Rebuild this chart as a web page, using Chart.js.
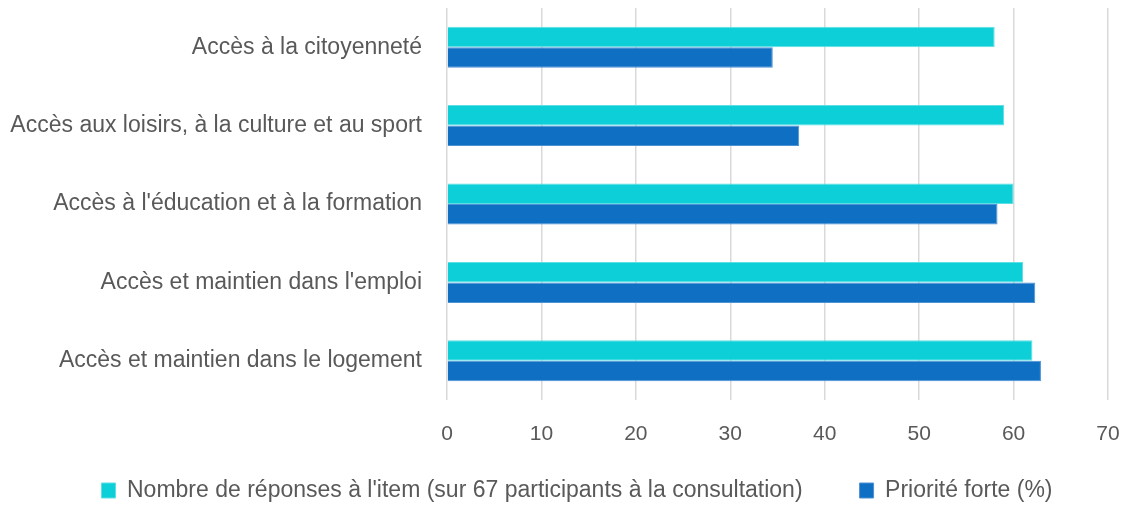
<!DOCTYPE html>
<html lang="fr">
<head>
<meta charset="utf-8">
<title>Priorités</title>
<script src="https://cdn.jsdelivr.net/npm/chart.js@4.4.1/dist/chart.umd.min.js"></script>
<style>
  html, body { margin: 0; padding: 0; background: #fff; }
  .chart-wrap { width: 1127px; height: 510px; }
</style>
</head>
<body>
<div class="chart-wrap">
  <canvas id="chart" width="1127" height="510"></canvas>
</div>
<script>
const categories = [
  'Accès à la citoyenneté',
  'Accès aux loisirs, à la culture et au sport',
  "Accès à l'éducation et à la formation",
  "Accès et maintien dans l'emploi",
  'Accès et maintien dans le logement',
];
const responses = [58, 59, 60, 61, 62];
const priority = [34.5, 37.3, 58.3, 62.3, 62.9];
const xTicks = [0, 10, 20, 30, 40, 50, 60, 70];

const labelResponses = "Nombre de réponses à l'item (sur 67 participants à la consultation)";
const labelPriority = 'Priorité forte (%)';

Chart.defaults.font.family = '"Liberation Sans", Arial, sans-serif';
Chart.defaults.font.size = 23;
Chart.defaults.color = '#595959';

// legend sits a little right of centre in the original
const legendOffset = {
  id: 'legendOffset',
  afterLayout(chart) {
    chart.legend.left += 23;
    chart.legend.right += 23;
  },
};

const ctx = document.getElementById('chart');

new Chart(ctx, {
  type: 'bar',
  data: {
    labels: categories,
    datasets: [
      {
        label: labelResponses,
        data: responses,
        backgroundColor: '#0ccfd8',
        borderColor: '#5ddfe5',
        borderWidth: 1,
      },
      {
        label: labelPriority,
        data: priority,
        backgroundColor: '#0e6fc3',
        borderColor: '#4d92d4',
        borderWidth: 1,
      },
    ],
  },
  options: {
    indexAxis: 'y',
    responsive: false,
    animation: false,
    datasets: {
      bar: {
        categoryPercentage: 0.523,
        barPercentage: 1,
      },
    },
    layout: {
      padding: { top: 8, right: 19, left: 0, bottom: 0 },
    },
    scales: {
      x: {
        min: xTicks[0],
        max: xTicks[xTicks.length - 1],
        afterBuildTicks: (scale) => {
          scale.ticks = xTicks.map((v) => ({ value: v }));
        },
        afterFit: (scale) => {
          scale.height = 68;
          scale.paddingLeft = 0;
          scale.paddingRight = 0;
        },
        grid: {
          color: '#d9d9d9',
          lineWidth: 1.5,
          drawTicks: false,
        },
        border: { display: false },
        ticks: {
          padding: 22,
          font: { size: 21 },
        },
      },
      y: {
        afterFit: (scale) => {
          // plot area starts at x = 447
          scale.width = 447;
          scale.paddingTop = 0;
          scale.paddingBottom = 0;
        },
        grid: { display: false },
        border: { display: false },
        ticks: {
          padding: 17,
        },
      },
    },
    plugins: {
      tooltip: { enabled: false },
      legend: {
        position: 'bottom',
        maxHeight: 42,
        labels: {
          boxWidth: 14,
          boxHeight: 15,
          padding: 11,
          // wider gap between the two legend entries
          generateLabels: (chart) => {
            const items = Chart.defaults.plugins.legend.labels.generateLabels(chart);
            items[0].text = items[0].text + '\u2003\u2003';
            return items;
          },
        },
      },
    },
  },
  plugins: [legendOffset],
});
</script>
</body>
</html>
